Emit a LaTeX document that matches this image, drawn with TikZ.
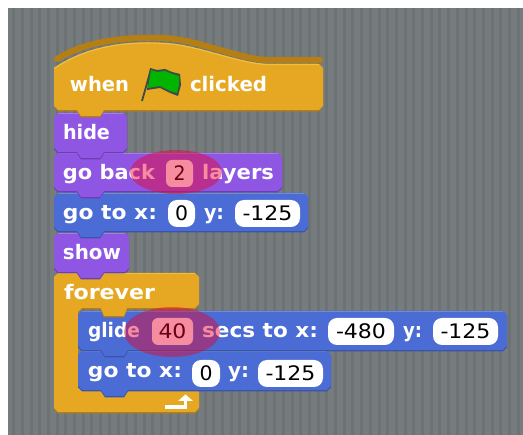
\documentclass[tikz,border=0pt]{standalone}
\usepackage{fontspec}
\usepackage{graphicx}
\setmainfont{DejaVu Sans}
\definecolor{bgG}{HTML}{767B7E}
\definecolor{bgD}{HTML}{6D7275}
\definecolor{orgM}{HTML}{E6A822}
\definecolor{orgD}{HTML}{B57F14}
\definecolor{orgL}{HTML}{F2BE3C}
\definecolor{purM}{HTML}{8F56E3}
\definecolor{purD}{HTML}{6C3FB0}
\definecolor{purL}{HTML}{A878EE}
\definecolor{bluM}{HTML}{4A6CD4}
\definecolor{bluD}{HTML}{3A55A8}
\definecolor{bluL}{HTML}{6C8AE2}
\definecolor{haloC}{RGB}{235,0,45}
\definecolor{flagG}{HTML}{00B400}
\definecolor{flagD}{HTML}{3C4A48}
\tikzset{
  x=1pt,y=-1pt,
  lab/.style={anchor=base west,inner sep=0pt,outer sep=0pt,text=white,font=\bfseries\fontsize{20}{20}\selectfont},
  field/.style={fill=white,rounded corners=#1,inner sep=0pt,outer sep=0pt,text=black,font=\fontsize{20}{20}\selectfont,anchor=center},
  field/.default=9pt,
  halo/.style={fill=haloC,fill opacity=.45,draw=none}
}
% stack block: colour prefix, x0,y0,x1,y1,tab left
\newcommand\stk[6]{%
  \def\pth##1{(#2+4,#3+##1)--(#4-4,#3+##1)--(#4,#3+4+##1)--(#4,#5-4+##1)--(#4-4,#5+##1)--(#6+27,#5+##1)--(#6+23,#5+6+##1)--(#6+4,#5+6+##1)--(#6,#5+##1)--(#2+4,#5+##1)--(#2,#5-4+##1)--(#2,#3+4+##1)--cycle}%
  \fill[#1D] \pth{1.5};
  \fill[#1M] \pth{0};
  \draw[#1L,line width=1.2pt] ({#2+4},{#3+.7})--({#4-4},{#3+.7});
}
\newcommand\lbl[5]{\node[lab] (#1) at (#2,#3) {\resizebox{#4pt}{\height}{#5}};}
\newcommand\fldt[8]{\node[field=#7,minimum width={(#3-#2)*1pt},minimum height={(#5-#4)*1pt}] (#1) at ({(#2+#3)/2},{(#4+#5)/2}) {\resizebox{#6pt}{\height}{#8}};}
\begin{document}
\begin{tikzpicture}
\useasboundingbox (0,0) rectangle (523,435);
\fill[white] (0,0) rectangle (523,435);
\fill[bgG] (8,8) rectangle (523,435);
\foreach \i in {0,...,58} {\fill[bgD] ({13.6+\i*8.7-1.5},8) rectangle ({13.6+\i*8.7+1.5},435);}
% forever C
\fill[orgD] (58,274.5)--(195,274.5)--(199,278.5)--(199,305)--(195,309.5)--(82,309.5)--(78,313)--(78,388)--(195,388)--(199,392)--(199,409)--(195,413.5)--(58,413.5)--(54,409)--(54,278)--cycle;
\fill[orgM] (58,273)--(195,273)--(199,277)--(199,304)--(195,308)--(82,308)--(78,312)--(78,388)--(195,388)--(199,392)--(199,408)--(195,412)--(58,412)--(54,408)--(54,277)--cycle;
\draw[orgL,line width=1.2pt] (58,273.7)--(195,273.7);
% inner blocks
\stk{blu}{78}{351}{331}{390}{101}
\stk{blu}{78}{311}{507}{350}{101}
% forever tab
\fill[orgD] (100,308)--(104,317.5)--(124,317.5)--(128,308)--cycle;
\fill[orgM] (100,306)--(104,316)--(124,316)--(128,306)--cycle;
% outer stack
\stk{pur}{54}{233}{129}{272}{77}
\stk{blu}{54}{193}{308}{231}{77}
\stk{pur}{54}{153}{282}{191}{77}
\stk{pur}{54}{113}{127}{152}{77}
% hat
\draw[orgD,line width=6pt,line cap=round] (57,59) .. controls (90,39) and (130,37) .. (165,38) .. controls (200,40) and (240,60) .. (270,60) -- (320,60);
\fill[orgD] (54,70) .. controls (90,46) and (130,43) .. (165,45) .. controls (200,47) and (240,66) .. (270,66) -- (319,66) -- (323,70) -- (323,106) -- (319,111.5) -- (104,111.5) -- (100,117.5) -- (81,117.5) -- (77,111.5) -- (58,111.5) -- (54,106) -- cycle;
\fill[orgM] (54,68) .. controls (90,44) and (130,41) .. (165,43) .. controls (200,45) and (240,64) .. (270,64) -- (319,64) -- (323,68) -- (323,106) -- (319,110) -- (104,110) -- (100,116) -- (81,116) -- (77,110) -- (58,110) -- (54,106) -- cycle;
\draw[orgL,line width=1.2pt] (54,68.5) .. controls (90,44.5) and (130,41.5) .. (165,43.5) .. controls (200,45.5) and (240,64.5) .. (270,64.5) -- (319,64.5);
% flag
\draw[flagD,line width=1.8pt] (142,101) -- (151,69);
\fill[flagD] (150,68)--(157,70)--(165,69)--(172,72)--(180,74)--(181,85)--(178,96)--(170,93)--(160,88)--(147,90)--cycle;
\fill[flagG] (151,70)--(157,72)--(165,71)--(172,74)--(179,76)--(179,85)--(177,93)--(170,91)--(160,86)--(148,88)--cycle;
% arrow
\draw[white,line width=3.5pt] (165,407) -- (185.5,407) -- (185.5,399);
\fill[white] (185.5,394.5) -- (193,401) -- (178,401) -- cycle;
% labels
\lbl{tWhen}{70}{92}{59}{when}
\lbl{tClicked}{190}{92}{77}{clicked}
\lbl{tHide}{63}{140}{47}{hide}
\lbl{tBack}{63}{180}{92}{go back}
\lbl{tLayers}{202}{180}{72}{layers}
\lbl{tGoA}{63}{220}{94}{go to x:}
\lbl{tYA}{204}{220}{20}{y:}
\lbl{tShow}{63}{260}{58}{show}
\lbl{tForever}{64}{300}{91}{forever}
\lbl{tGlide}{88}{338}{52}{glide}
\lbl{tSecs}{202}{338}{116}{secs to x:}
\lbl{tYB}{403}{338}{19}{y:}
\lbl{tGoB}{88}{378}{94}{go to x:}
\lbl{tYC}{228}{378}{21}{y:}
% fields
\fldt{fTwo}{166}{193}{160}{187}{12}{6pt}{2}
\fldt{fXA}{168}{195}{200}{227}{13}{9pt}{0}
\fldt{fYA}{235}{300}{200}{227}{50}{9pt}{-125}
\fldt{fSecs}{152}{193}{318}{345}{28}{6pt}{40}
\fldt{fXB}{328}{394}{318}{345}{50}{9pt}{-480}
\fldt{fYB}{433}{498}{318}{345}{50}{9pt}{-125}
\fldt{fXC}{192}{220}{360}{387}{13}{9pt}{0}
\fldt{fYC}{258}{323}{360}{387}{50}{9pt}{-125}
% highlights
\fill[halo] (176,172) ellipse [x radius=46,y radius=22];
\fill[halo] (172,332) ellipse [x radius=48,y radius=25];
\end{tikzpicture}
\end{document}
